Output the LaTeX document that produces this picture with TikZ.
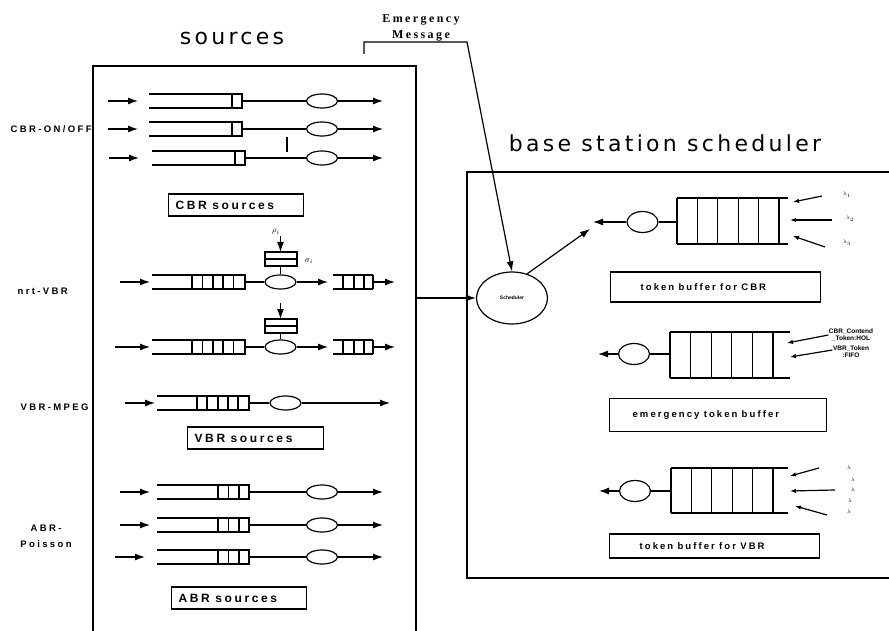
\documentclass[tikz,border=0pt]{standalone}
\usepackage{fontspec}
\setmainfont{Liberation Sans}
\newfontfamily\headfont[LetterSpace=15]{DejaVu Sans}
\newfontfamily\boxfont[LetterSpace=22]{Liberation Sans}
\newfontfamily\tagfont[LetterSpace=25]{Liberation Sans}
\newfontfamily\msgfont[LetterSpace=20]{Liberation Serif}
\usetikzlibrary{arrows.meta,shapes.geometric}
\newcommand\gap{\hspace{0.45em}}

\begin{document}
\begin{tikzpicture}[x=1pt, y=-1pt, line width=1.2pt,
  >={Latex[length=10pt,width=7pt]},
  server/.style={draw, ellipse, inner sep=0pt, minimum width=31pt, minimum height=14pt},
  token/.style={server, minimum height=21pt},
  labelbox/.style={draw, anchor=west, align=left, inner xsep=7pt, inner ysep=0pt,
    minimum height=22pt, font=\boxfont\bfseries\fontsize{12}{12}\selectfont},
  tokenbox/.style={labelbox, font=\boxfont\bfseries\fontsize{9.5}{9.5}\selectfont},
  tag/.style={anchor=west, inner sep=0pt, font=\tagfont\bfseries\fontsize{9.5}{16}\selectfont},
  rate/.style={inner sep=0pt, font=\fontsize{5}{5}\selectfont},
  feed/.style={-{Latex[length=6pt,width=4.5pt]}}
]
\useasboundingbox (0,0) rectangle (889,631);

% Titles
\node[font=\headfont\fontsize{22}{22}\selectfont] (srctitle) at (232,38) {sources};
\node[font=\headfont\fontsize{22}{22}\selectfont] (bstitle) at (665,143) {base station scheduler};

% Source side frame (open at the bottom)
\draw (93,631) -- (93,66) -- (416,66) -- (416,631);

% Traffic class names
\node[tag] (lcbr) at (10,129) {CBR-ON/OFF};
\node[tag] (lnrt) at (17,291) {nrt-VBR};
\node[tag] (lmpeg) at (20,407) {VBR-MPEG};
\node[tag, anchor=center, align=center] (labr) at (46,536) {ABR-\\Poisson};

% CBR on/off sources
\foreach \y/\xa/\xb [count=\i] in {101/108/149, 129/108/149, 158/109/152} {
  \coordinate (cin\i) at (\xa,\y);
  \coordinate (cq\i) at (\xb+93,\y);
  \draw[->] (cin\i) -- ++(30,0);
  \draw (\xb,\y-7) -- (\xb+93,\y-7) -- (\xb+93,\y+7) -- (\xb,\y+7);
  \draw (\xb+83,\y-7) -- ++(0,14);
  \node[server] (cs\i) at (322,\y) {};
  \coordinate (cout\i) at (383,\y);
  \draw (cq\i) -- (cs\i);
  \draw[->] (cs\i) -- (cout\i);
}
\draw (287,137) -- (287,152);
\node[labelbox, text width=121pt] (cbrbox) at (168,205) {CBR\gap sources};

% nrt-VBR sources with token bucket
\foreach \y/\xa/\yb [count=\i] in {282/120/252, 347/115/319} {
  \coordinate (nin\i) at (\xa,\y);
  \draw[->] (nin\i) -- (150,\y);
  \draw (152,\y-7) -- (245,\y-7) -- (245,\y+7) -- (152,\y+7);
  \foreach \x in {192,202.5,213,223,233.5}
    \draw (\x,\y-7) -- (\x,\y+7);
  \node[server] (ns\i) at (280.5,\y) {};
  \draw (245,\y) -- (ns\i);
  % output queue
  \coordinate (nq\i) at (333,\y);
  \draw (333,\y-7) -- (373,\y-7) (333,\y+7) -- (373,\y+7);
  \foreach \x in {343,354,364,373}
    \draw (\x,\y-7) -- (\x,\y+7);
  \draw[->] (ns\i) -- ([xshift=-5pt]nq\i);
  \coordinate (nout\i) at (395,\y);
  \draw[->] (373,\y) -- (nout\i);
  % bucket
  \coordinate (bk\i) at (280.5,\yb);
  \draw (265,\yb) rectangle (297,\yb+14);
  \draw (265,\yb+7) -- (297,\yb+7);
  \draw (280.5,\yb+14) -- (ns\i.north);
  \draw[->] ([yshift=16pt]bk\i) -- (bk\i);
}
\node[rate, font=\fontsize{8}{8}\selectfont] (rho) at (276,232) {$\rho_i$};
\node[rate, font=\fontsize{8}{8}\selectfont] (sigma) at (309,261) {$\sigma_i$};

% VBR-MPEG source
\coordinate (min) at (125,403);
\draw[->] (min) -- (155,403);
\draw (157,396) -- (249,396) -- (249,410) -- (157,410);
\foreach \x in {197,207,218,228,238}
  \draw (\x,396) -- (\x,410);
\node[server] (ms) at (285.5,403) {};
\coordinate (mout) at (390,403);
\draw (249,403) -- (ms);
\draw[->] (ms) -- (mout);
\node[labelbox, text width=122pt] (vbrbox) at (187,438) {VBR\gap sources};

% ABR Poisson sources
\foreach \y/\xa [count=\i] in {492/120, 525/120, 557/115} {
  \coordinate (ain\i) at (\xa,\y);
  \draw[->] (ain\i) -- ++(30,0);
  \draw (157,\y-7) -- (249,\y-7) -- (249,\y+7) -- (157,\y+7);
  \foreach \x in {218,228.5,239}
    \draw (\x,\y-7) -- (\x,\y+7);
  \node[server] (as\i) at (322,\y) {};
  \coordinate (aout\i) at (383,\y);
  \draw (249,\y) -- (as\i);
  \draw[->] (as\i) -- (aout\i);
}
\node[labelbox, text width=121pt] (abrbox) at (171,598) {ABR\gap sources};

% Base station frame (open on the right)
\draw (889,172) -- (467,172) -- (467,578) -- (889,578);

% Scheduler
\node[draw, ellipse, minimum width=71pt, minimum height=52pt, inner sep=0pt,
  font=\bfseries\fontsize{5}{5}\selectfont] (sched) at (512,298) {Scheduler};
\coordinate (srcout) at (416,298);
\draw[->] (srcout) -- (sched.west);

% Emergency message
\node[font=\msgfont\bfseries\fontsize{12}{16}\selectfont, align=center] (emsg) at (421,28) {Emergency\\Message};
\coordinate (emleft) at (364,54);
\coordinate (emright) at (467,42);
\draw[->] (emleft) |- (emright) -- (sched.north);
\coordinate (grant) at (590,229);
\draw[->] (sched.58) -- (grant);

% Token buffer for CBR
\node[token] (t1) at (642.5,222) {};
\coordinate (t1out) at (593,222);
\draw[->] (t1) -- (t1out);
\draw (677,198) -- (788,198) (677,244) -- (788,244);
\foreach \k in {0,...,5}
  \draw (677+20.4*\k,198) -- (677+20.4*\k,244);
\draw (t1) -- (677,222);
\coordinate (c1a) at (822,196); \coordinate (c1b) at (832,220); \coordinate (c1c) at (825,247);
\draw[feed] (c1a) -- (793,202);
\draw[feed] (c1b) -- (790,220);
\draw[feed] (c1c) -- (793,236);
\node[rate] (r1a) at (847,195) {$\lambda_1$};
\node[rate] (r1b) at (850,219) {$\lambda_2$};
\node[rate] (r1c) at (847,243) {$\lambda_3$};
\node[tokenbox, text width=150pt, inner xsep=30pt, minimum height=30pt] (tb1) at (610,287) {token\gap buffer\gap for\gap CBR};

% Emergency token buffer
\node[token] (t2) at (634,354) {};
\coordinate (t2out) at (598,354);
\draw[->] (t2) -- (t2out);
\draw (670,332) -- (790,332) (670,378) -- (790,378);
\foreach \k in {0,...,5}
  \draw (670+20.6*\k,332) -- (670+20.6*\k,378);
\draw (t2) -- (670,354);
\node[font=\bfseries\fontsize{6.5}{7}\selectfont, inner sep=0pt, align=center] (hol) at (851,335) {CBR\_Contend\\\_Token:HOL};
\node[font=\bfseries\fontsize{6.5}{7}\selectfont, inner sep=0pt, align=center] (fifo) at (851,352) {VBR\_Token\\:FIFO};
\draw[feed] (hol.west) -- (787,343);
\draw[feed] ([yshift=2pt]fifo.west) -- (790,357);
\node[tokenbox, text width=171pt, inner xsep=23pt, minimum height=33pt] (tb2) at (609,415) {emergency\gap token\gap buffer};

% Token buffer for VBR
\node[token] (t3) at (635,491) {};
\coordinate (t3out) at (599,491);
\draw[->] (t3) -- (t3out);
\draw (671,468) -- (788,468) (671,513) -- (788,513);
\foreach \k in {0,...,5}
  \draw (671+20.4*\k,468) -- (671+20.4*\k,513);
\draw (t3) -- (671,491);
\coordinate (c3a) at (819,468); \coordinate (c3b) at (835,490); \coordinate (c3c) at (827,515);
\draw[feed] (c3a) -- (790,476);
\draw[feed] (c3b) -- (790,491);
\draw[feed] (c3c) -- (795,506);
\foreach \px/\py [count=\j] in {849/468, 853/480, 853/490, 850/501, 849/512}
  \node[rate] (r3\j) at (\px,\py) {$\lambda$};
\node[tokenbox, text width=150pt, inner xsep=30pt, minimum height=24pt] (tb3) at (609,546) {token\gap buffer\gap for\gap VBR};

\end{tikzpicture}
\end{document}
